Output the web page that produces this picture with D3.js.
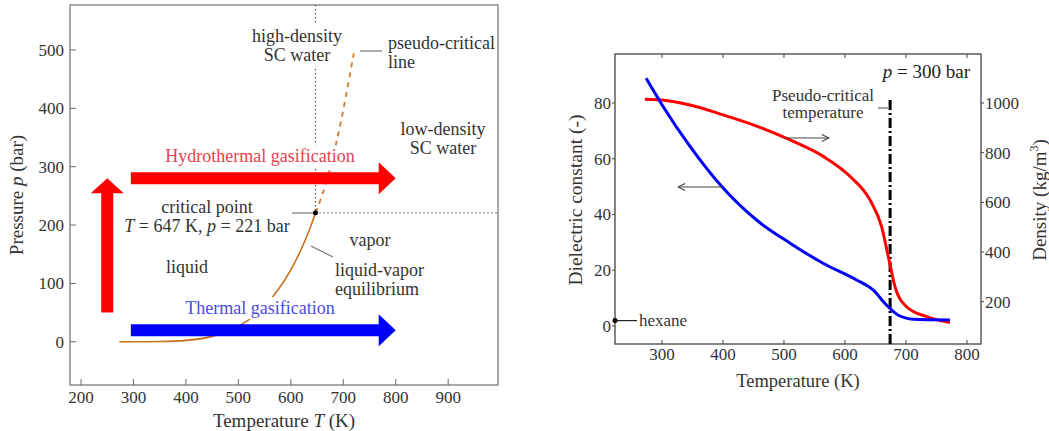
<!DOCTYPE html>
<html>
<head>
<meta charset="utf-8">
<script src="https://cdn.jsdelivr.net/npm/d3@7"></script>
<style>
  body { margin: 0; background: #fff; }
  text { font-family: "Liberation Serif", "DejaVu Serif", serif; }
</style>
</head>
<body>
<div id="chart"></div>
<script>
// Left panel data: water phase diagram

const satT = [273, 300, 350, 400, 450, 500, 550, 600, 620, 640, 647];               // Liquid-vapor equilibrium temperature (K)
const satP = [0, 0.04, 0.4, 2.5, 9.3, 26.4, 61.2, 123.4, 159, 202.7, 221];          // Saturation pressure (bar)
const pseudoT = [647, 666, 688, 720];                                               // Pseudo-critical line temperature (K)
const pseudoP = [221, 269, 346, 494];                                               // Pseudo-critical line pressure (bar)
const critical = {T: 647, p: 221};                                                  // Critical point
const leftXTicks = [200, 300, 400, 500, 600, 700, 800, 900];
const leftYTicks = [0, 100, 200, 300, 400, 500];
const routes = [                                                                    // Horizontal process arrows
  {name: "Hydrothermal gasification", t0: 295, t1: 800, p: 280, fill: "#ff0000", text: "#e8404c"},
  {name: "Thermal gasification", t0: 295, t1: 800, p: 20, fill: "#0000ff", text: "#4a4ae6"}
];
const pressurise = {T: 250, p0: 50, p1: 280};                                       // Vertical red arrow

// Right panel data: properties at 300 bar

const epsT = [274, 300, 346, 398, 455, 510, 564, 619, 646, 668, 687, 712, 772];
const epsV = [88.9, 79.4, 64.4, 50, 38, 29.7, 22.5, 16.5, 12.9, 7.5, 3.9, 2.4, 2.15];
const rhoT = [272, 300, 346, 400, 455, 510, 565, 609, 641, 660, 671, 682, 701, 734, 772];
const rhoV = [1015, 1012, 992, 952, 907, 851, 784, 703, 610, 502, 382, 261, 180, 140, 116];
const pseudoTemp = 674;                                                             // Pseudo-critical temperature (K)
const hexaneEps = 1.9;
const rightXTicks = [300, 400, 500, 600, 700, 800];
const epsTicks = [0, 20, 40, 60, 80];
const rhoTicks = [200, 400, 600, 800, 1000];

const svg = d3.select("#chart").append("svg").attr("width", 1049).attr("height", 431);

// ---------- Left panel ----------

const xL = d3.scaleLinear().domain([179, 995]).range([70, 498]);
const yL = d3.scaleLinear().domain([-74, 577]).range([385, 5]);
const L = svg.append("g");

L.append("rect").attr("x", 70).attr("y", 5).attr("width", 428).attr("height", 380)
  .attr("fill", "none").attr("stroke", "#7a7a7a").attr("stroke-width", 1.3);

L.selectAll(".xt").data(leftXTicks).enter().append("line")
  .attr("x1", d => xL(d)).attr("x2", d => xL(d)).attr("y1", 385).attr("y2", 379)
  .attr("stroke", "#666");
L.selectAll(".xl").data(leftXTicks).enter().append("text")
  .attr("x", d => xL(d)).attr("y", 403).attr("text-anchor", "middle")
  .attr("font-size", 17).attr("fill", "#333").text(d => d);
L.selectAll(".yt").data(leftYTicks).enter().append("line")
  .attr("x1", 70).attr("x2", 76).attr("y1", d => yL(d)).attr("y2", d => yL(d))
  .attr("stroke", "#666");
L.selectAll(".yl").data(leftYTicks).enter().append("text")
  .attr("x", 64).attr("y", d => yL(d) + 6).attr("text-anchor", "end")
  .attr("font-size", 17).attr("fill", "#333").text(d => d);

const xTitleL = L.append("text").attr("x", 284).attr("y", 427).attr("text-anchor", "middle")
  .attr("font-size", 19).attr("fill", "#333");
xTitleL.append("tspan").text("Temperature ");
xTitleL.append("tspan").attr("font-style", "italic").text("T");
xTitleL.append("tspan").text(" (K)");
const yTitleL = L.append("text").attr("transform", "translate(23,195) rotate(-90)")
  .attr("text-anchor", "middle").attr("font-size", 19).attr("fill", "#333");
yTitleL.append("tspan").text("Pressure ");
yTitleL.append("tspan").attr("font-style", "italic").text("p");
yTitleL.append("tspan").text(" (bar)");

// dotted guides through the critical point
L.append("line").attr("x1", xL(critical.T)).attr("x2", xL(critical.T))
  .attr("y1", 5).attr("y2", yL(critical.p))
  .attr("stroke", "#444").attr("stroke-width", 1.2).attr("stroke-dasharray", "1.2,2.8");
L.append("line").attr("x1", xL(critical.T)).attr("x2", 498)
  .attr("y1", yL(critical.p)).attr("y2", yL(critical.p))
  .attr("stroke", "#444").attr("stroke-width", 1.2).attr("stroke-dasharray", "1.2,2.8");

// liquid-vapor equilibrium curve and pseudo-critical line
const satLine = d3.line().x(d => xL(d[0])).y(d => yL(d[1])).curve(d3.curveMonotoneX);
L.append("path").datum(d3.zip(satT, satP)).attr("d", satLine)
  .attr("fill", "none").attr("stroke", "#c8701e").attr("stroke-width", 1.6);
L.append("path").datum(d3.zip(pseudoT, pseudoP)).attr("d", satLine)
  .attr("fill", "none").attr("stroke", "#d07a2a").attr("stroke-width", 1.8)
  .attr("stroke-dasharray", "5,5");

// leader lines
const leaders = [[292, 213, xL(critical.T), 213], [360, 51, 382, 51], [311, 246, 333, 257]];
L.selectAll(".leader").data(leaders).enter().append("line")
  .attr("x1", d => d[0]).attr("y1", d => d[1]).attr("x2", d => d[2]).attr("y2", d => d[3])
  .attr("stroke", "#777").attr("stroke-width", 1.2);
L.append("circle").attr("cx", xL(critical.T)).attr("cy", yL(critical.p)).attr("r", 2.5).attr("fill", "#000");

// labels (white box behind so lines pass underneath)
function label(g, lines, x, y, anchor, color, boxed) {
  const t = g.append("text").attr("x", x).attr("y", y).attr("text-anchor", anchor)
    .attr("font-size", 18).attr("fill", color);
  lines.forEach((ln, i) => {
    const ts = t.append("tspan").attr("x", x).attr("dy", i ? 19 : 0);
    ln.forEach(part => ts.append("tspan").attr("font-style", part[1] ? "italic" : null).text(part[0]));
  });
  if (boxed) {
    const b = t.node().getBBox();
    g.insert("rect", () => t.node()).attr("x", b.x - 2).attr("y", b.y - 1)
      .attr("width", b.width + 4).attr("height", b.height + 2).attr("fill", "#fff");
  }
}
label(L, [[["high-density"]], [["SC water"]]], 297, 42, "middle", "#333", true);
label(L, [[["pseudo-critical"]], [["line"]]], 388, 49, "start", "#333", false);
label(L, [[["low-density"]], [["SC water"]]], 443, 135, "middle", "#333", false);
label(L, [[["critical point"]], [["T", 1], [" = 647 K, "], ["p", 1], [" = 221 bar"]]], 207, 213, "middle", "#333", false);
label(L, [[["vapor"]]], 370, 246, "middle", "#333", false);
label(L, [[["liquid"]]], 187, 273, "middle", "#333", false);
label(L, [[["liquid-vapor"]], [["equilibrium"]]], 335, 276, "start", "#333", false);
routes.forEach(r => label(L, [[[r.name]]], 260, yL(r.p) - 16, "middle", r.text, true));

// arrows
function hArrow(g, x0, x1, y, fill) {
  const s = 6, hw = 16, hl = 17;
  g.append("path").attr("fill", fill).attr("d",
    `M${x0},${y - s}L${x1 - hl},${y - s}L${x1 - hl},${y - hw}L${x1},${y}L${x1 - hl},${y + hw}L${x1 - hl},${y + s}L${x0},${y + s}Z`);
}
routes.forEach(r => hArrow(L, xL(r.t0), xL(r.t1), yL(r.p), r.fill));
{
  const x = xL(pressurise.T), y0 = yL(pressurise.p0), y1 = yL(pressurise.p1), s = 6, hw = 16.5, hl = 15;
  L.append("path").attr("fill", "#ff0000").attr("d",
    `M${x - s},${y0}L${x - s},${y1 + hl}L${x - hw},${y1 + hl}L${x},${y1}L${x + hw},${y1 + hl}L${x + s},${y1 + hl}L${x + s},${y0}Z`);
}

// ---------- Right panel ----------

const xR = d3.scaleLinear().domain([223, 823]).range([615, 981]);
const yE = d3.scaleLinear().domain([-6.5, 97.6]).range([344, 54]);
const yD = d3.scaleLinear().domain([30, 1197]).range([344, 54]);
const R = svg.append("g");

R.append("rect").attr("x", 615).attr("y", 54).attr("width", 366).attr("height", 290)
  .attr("fill", "none").attr("stroke", "#444").attr("stroke-width", 1.3);

R.selectAll(".bt").data(rightXTicks).enter().append("line")
  .attr("x1", d => xR(d)).attr("x2", d => xR(d)).attr("y1", 344).attr("y2", 340).attr("stroke", "#444");
R.selectAll(".tt").data(rightXTicks).enter().append("line")
  .attr("x1", d => xR(d)).attr("x2", d => xR(d)).attr("y1", 54).attr("y2", 58).attr("stroke", "#444");
R.selectAll(".xl").data(rightXTicks).enter().append("text")
  .attr("x", d => xR(d)).attr("y", 360).attr("text-anchor", "middle")
  .attr("font-size", 17).attr("fill", "#333").text(d => d);
R.selectAll(".lt").data(epsTicks).enter().append("line")
  .attr("x1", 612).attr("x2", 615).attr("y1", d => yE(d)).attr("y2", d => yE(d)).attr("stroke", "#444");
R.selectAll(".ll").data(epsTicks).enter().append("text")
  .attr("x", 611).attr("y", d => yE(d) + 6).attr("text-anchor", "end")
  .attr("font-size", 17).attr("fill", "#333").text(d => d);
R.selectAll(".rt").data(rhoTicks).enter().append("line")
  .attr("x1", 981).attr("x2", 984).attr("y1", d => yD(d)).attr("y2", d => yD(d)).attr("stroke", "#444");
R.selectAll(".rl").data(rhoTicks).enter().append("text")
  .attr("x", 985).attr("y", d => yD(d) + 6).attr("text-anchor", "start")
  .attr("font-size", 17).attr("fill", "#333").text(d => d);

R.append("text").attr("x", 798).attr("y", 387).attr("text-anchor", "middle")
  .attr("font-size", 18.5).attr("fill", "#333").text("Temperature (K)");
R.append("text").attr("transform", "translate(582,200) rotate(-90)").attr("text-anchor", "middle")
  .attr("font-size", 19.5).attr("fill", "#333").text("Dielectric constant (-)");
const dTitle = R.append("text").attr("transform", "translate(1046,200) rotate(-90)").attr("text-anchor", "middle")
  .attr("font-size", 19).attr("fill", "#333");
dTitle.append("tspan").text("Density (kg/m");
dTitle.append("tspan").attr("font-size", 12).attr("dy", -8).text("3");
dTitle.append("tspan").attr("dy", 8).text(")");

// pseudo-critical temperature
R.append("line").attr("x1", xR(pseudoTemp)).attr("x2", xR(pseudoTemp)).attr("y1", 100).attr("y2", 344)
  .attr("stroke", "#000").attr("stroke-width", 3).attr("stroke-dasharray", "10,3,2,3");
R.append("line").attr("x1", 878).attr("x2", 888).attr("y1", 108).attr("y2", 108).attr("stroke", "#444");
R.append("text").attr("x", 823).attr("y", 101).attr("text-anchor", "middle").attr("font-size", 17)
  .attr("fill", "#333").text("Pseudo-critical");
R.append("text").attr("x", 823).attr("y", 118).attr("text-anchor", "middle").attr("font-size", 17)
  .attr("fill", "#333").text("temperature");
const pLab = R.append("text").attr("x", 970).attr("y", 78).attr("text-anchor", "end")
  .attr("font-size", 19).attr("fill", "#222");
pLab.append("tspan").attr("font-style", "italic").text("p");
pLab.append("tspan").text(" = 300 bar");

// curves
const epsLine = d3.line().x(d => xR(d[0])).y(d => yE(d[1])).curve(d3.curveMonotoneX);
const rhoLine = d3.line().x(d => xR(d[0])).y(d => yD(d[1])).curve(d3.curveMonotoneX);
R.append("path").datum(d3.zip(rhoT, rhoV)).attr("d", rhoLine)
  .attr("fill", "none").attr("stroke", "#ff0000").attr("stroke-width", 3);
R.append("path").datum(d3.zip(epsT, epsV)).attr("d", epsLine)
  .attr("fill", "none").attr("stroke", "#0000ff").attr("stroke-width", 3);

// axis pointer arrows
svg.append("defs").append("marker").attr("id", "open").attr("viewBox", "0 0 10 10")
  .attr("refX", 9).attr("refY", 5).attr("markerWidth", 9).attr("markerHeight", 9)
  .attr("orient", "auto").attr("markerUnits", "userSpaceOnUse")
  .append("path").attr("d", "M1,1L9,5L1,9").attr("fill", "none").attr("stroke", "#444").attr("stroke-width", 1.2);
R.append("line").attr("x1", 785).attr("x2", 829).attr("y1", 138).attr("y2", 138)
  .attr("stroke", "#444").attr("stroke-width", 1.2).attr("marker-end", "url(#open)");
R.append("line").attr("x1", 722).attr("x2", 678).attr("y1", 187).attr("y2", 187)
  .attr("stroke", "#444").attr("stroke-width", 1.2).attr("marker-end", "url(#open)");

// hexane marker
R.append("circle").attr("cx", 615).attr("cy", yE(hexaneEps)).attr("r", 2.5).attr("fill", "#000");
R.append("line").attr("x1", 615).attr("x2", 637).attr("y1", yE(hexaneEps)).attr("y2", yE(hexaneEps))
  .attr("stroke", "#222").attr("stroke-width", 1.2);
R.append("text").attr("x", 639).attr("y", yE(hexaneEps) + 5).attr("font-size", 17)
  .attr("fill", "#333").text("hexane");
</script>
</body>
</html>
